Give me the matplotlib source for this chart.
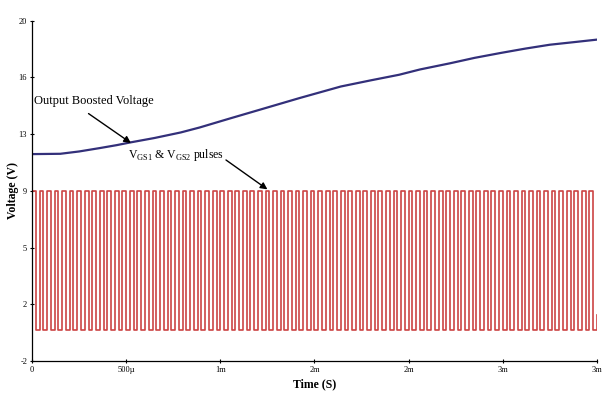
import numpy as np
import matplotlib.pyplot as plt

# output boosted voltage (time in ms, volts)
boost_t = [0.0, 0.15, 0.25, 0.36, 0.45, 0.52, 0.65, 0.79, 0.89, 1.05, 1.21, 1.42, 1.64, 1.80,
           1.95, 2.06, 2.22, 2.35, 2.49, 2.62, 2.75, 2.88, 3.0]
boost_v = [11.38, 11.40, 11.55, 11.77, 11.96, 12.13, 12.42, 12.78, 13.10, 13.68, 14.25, 15.0, 15.75, 16.15,
           16.51, 16.85, 17.25, 17.60, 17.92, 18.20, 18.45, 18.62, 18.78]

# gate pulses V_GS1 & V_GS2
pulse_high = 9.0
pulse_low = 0.0
pulse_period = 0.04   # ms
pulse_count = 75
pulse_end_level = 1.0  # partial rise at the last sample

yticks = np.linspace(-2, 20, 7)
ytick_labels = ['-2', '2', '5', '9', '13', '16', '20']
xticks = np.linspace(0, 3, 7)
xtick_labels = ['0', '500\u00b5', '1m', '2m', '2m', '3m', '3m']

# build the square wave from the pulse parameters
pt, pv = [], []
for k in range(pulse_count):
    t0 = k * pulse_period
    t1 = t0 + pulse_period / 2
    pt += [t0, t0, t1, t1]
    pv += [pulse_low, pulse_high, pulse_high, pulse_low]
pt += [pulse_count * pulse_period, pulse_count * pulse_period]
pv += [pulse_low, pulse_end_level]

plt.rcParams['font.family'] = ['Liberation Serif', 'DejaVu Serif']
plt.rcParams['mathtext.fontset'] = 'custom'
plt.rcParams['mathtext.rm'] = 'Liberation Serif'

fig = plt.figure(figsize=(6.16, 3.99), dpi=100)
ax = fig.add_axes([0.052, 0.095, 0.917, 0.853])

ax.plot(pt, pv, color='#cc4444', lw=1.2)
ax.plot(boost_t, boost_v, color='#33307a', lw=1.6)

ax.set_xlim(0, 3)
ax.set_ylim(-2, 20)
ax.set_yticks(yticks)
ax.set_yticklabels(ytick_labels)
ax.set_xticks(xticks)
ax.set_xticklabels(xtick_labels)
ax.tick_params(labelsize=6, length=3, width=0.8, direction='inout', pad=2)

for s in ['top', 'right']:
    ax.spines[s].set_visible(False)
ax.spines['left'].set_linewidth(0.9)
ax.spines['bottom'].set_linewidth(0.9)

ax.set_xlabel('Time (S)', fontsize=8.5, fontweight='bold', labelpad=3)
ax.set_ylabel('Voltage (V)', fontsize=8.5, fontweight='bold', labelpad=0)

arrow = dict(arrowstyle='-|>', color='black', lw=1.0, mutation_scale=10,
             shrinkA=0, shrinkB=0)
ax.text(0.01, 14.8, 'Output Boosted Voltage', fontsize=9, ha='left', va='center')
ax.annotate('', xy=(0.525, 12.1), xytext=(0.30, 14.0), arrowprops=arrow)
ax.text(1.02, 11.3, r'V$_{\mathregular{GS1}}$ & V$_{\mathregular{GS2}}$ pulses',
        fontsize=8.5, ha='right', va='center')
ax.annotate('', xy=(1.25, 9.1), xytext=(1.03, 11.0), arrowprops=arrow)

fig.savefig('out.png', dpi=100)
